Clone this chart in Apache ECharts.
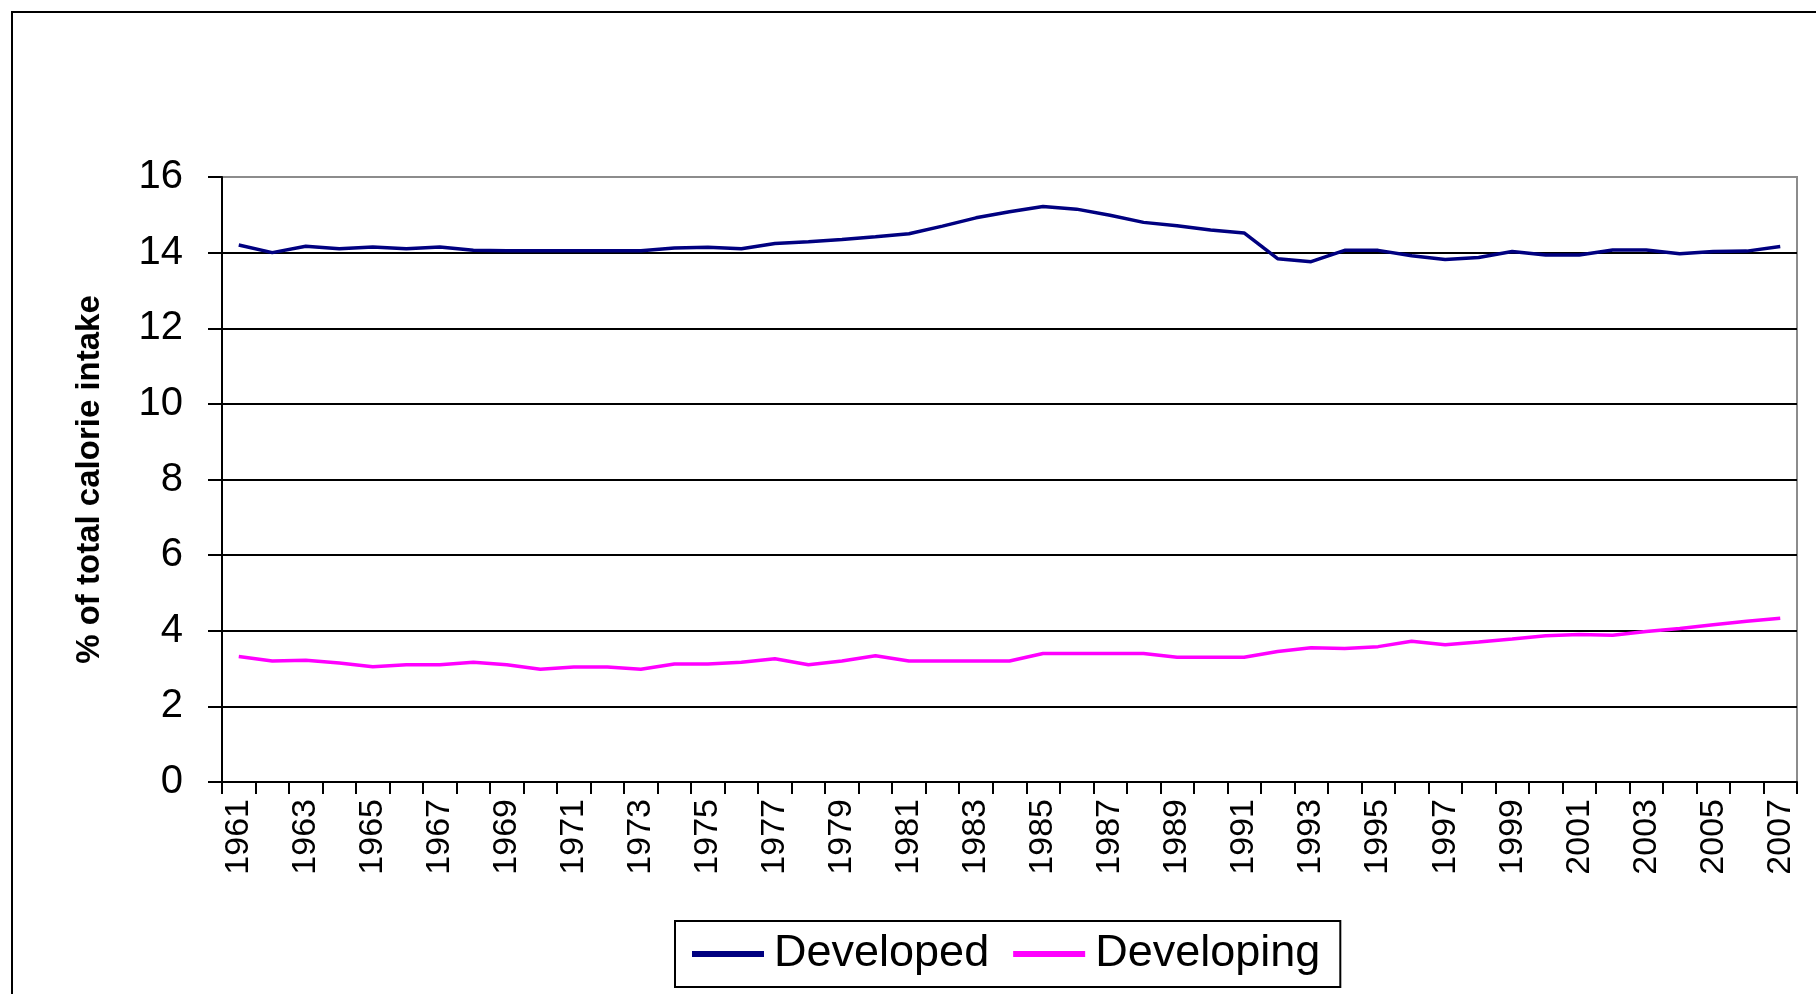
<!DOCTYPE html>
<html>
<head>
<meta charset="utf-8">
<script src="https://cdn.jsdelivr.net/npm/echarts@6/dist/echarts.min.js"></script>
<style>
  html, body { margin: 0; padding: 0; background: #fff; }
  #chart { width: 1816px; height: 994px; }
</style>
</head>
<body>
<div id="chart"></div>
<script>
// years 1961..2007
const years = [
  "1961", "1962", "1963", "1964", "1965", "1966", "1967", "1968", "1969", "1970",
  "1971", "1972", "1973", "1974", "1975", "1976", "1977", "1978", "1979", "1980",
  "1981", "1982", "1983", "1984", "1985", "1986", "1987", "1988", "1989", "1990",
  "1991", "1992", "1993", "1994", "1995", "1996", "1997", "1998", "1999", "2000",
  "2001", "2002", "2003", "2004", "2005", "2006", "2007"
];

const developed = [
  14.2, 14.0, 14.17, 14.1, 14.15, 14.1, 14.15, 14.06, 14.05, 14.05,
  14.05, 14.05, 14.05, 14.12, 14.14, 14.1, 14.24, 14.29, 14.35, 14.42,
  14.5, 14.7, 14.92, 15.08, 15.22, 15.15, 14.99, 14.8, 14.71, 14.6,
  14.52, 13.84, 13.76, 14.06, 14.06, 13.92, 13.82, 13.87, 14.03, 13.94,
  13.94, 14.07, 14.07, 13.97, 14.03, 14.04, 14.16
];

const developing = [
  3.32, 3.2, 3.22, 3.15, 3.05, 3.1, 3.1, 3.17, 3.1, 2.98,
  3.04, 3.04, 2.98, 3.12, 3.12, 3.17, 3.26, 3.1, 3.2, 3.34,
  3.2, 3.2, 3.2, 3.2, 3.4, 3.4, 3.4, 3.4, 3.3, 3.3,
  3.3, 3.45, 3.55, 3.53, 3.58, 3.72, 3.63, 3.7, 3.78, 3.87,
  3.9, 3.88, 3.98, 4.06, 4.16, 4.25, 4.33
];

const chart = echarts.init(document.getElementById("chart"));

const font = "Liberation Sans, Arial, sans-serif";

// top gridline (16) is the grey plot-area border, the rest black
const splitColors = ["#000", "#000", "#000", "#000", "#000", "#000", "#000", "#000", "#8c8c8c"];

const options = {
  animation: false,
  backgroundColor: "#fff",
  graphic: [
    {
      type: "rect",
      shape: { x: 12, y: 12, width: 1900, height: 1100 },
      style: { fill: "none", stroke: "#000", lineWidth: 2 },
      silent: true
    }
  ],
  grid: {
    left: 222,
    right: 19,
    top: 177,
    bottom: 212,
    show: true,
    borderColor: "#8c8c8c",
    borderWidth: 2
  },
  legend: {
    left: 675,
    top: 921,
    orient: "horizontal",
    padding: [10, 20, 10, 17],
    borderColor: "#000",
    borderWidth: 2,
    icon: "rect",
    itemWidth: 72,
    itemHeight: 6,
    itemGap: 24,
    textStyle: {
      fontFamily: font,
      fontSize: 45,
      lineHeight: 46,
      color: "#000",
      padding: [0, 0, 0, 5]
    },
    data: ["Developed", "Developing"]
  },
  xAxis: {
    type: "category",
    data: years,
    boundaryGap: true,
    axisLine: { lineStyle: { color: "#000", width: 2 } },
    axisTick: { show: true, interval: 0, length: 12, lineStyle: { color: "#000", width: 2 } },
    axisLabel: {
      interval: 1,
      rotate: 90,
      margin: 17,
      fontFamily: font,
      fontSize: 34,
      color: "#000"
    },
    splitLine: { show: false }
  },
  yAxis: {
    type: "value",
    min: 0,
    max: 16,
    interval: 2,
    name: "% of total calorie intake",
    nameLocation: "middle",
    nameGap: 116,
    nameTextStyle: {
      fontFamily: font,
      fontSize: 33,
      fontWeight: "bold",
      color: "#000"
    },
    axisLine: { show: true, lineStyle: { color: "#000", width: 2 } },
    axisTick: { show: true, length: 14, lineStyle: { color: "#000", width: 2 } },
    axisLabel: {
      margin: 39,
      fontFamily: font,
      fontSize: 40,
      color: "#000"
    },
    splitLine: { show: true, lineStyle: { color: splitColors, width: 2 } }
  },
  series: [
    {
      name: "Developed",
      type: "line",
      data: developed,
      symbol: "none",
      color: "#000080",
      lineStyle: { color: "#000080", width: 3.5 }
    },
    {
      name: "Developing",
      type: "line",
      data: developing,
      symbol: "none",
      color: "#ff00ff",
      lineStyle: { color: "#ff00ff", width: 3.5 }
    }
  ]
};

chart.setOption(options);
</script>
</body>
</html>
